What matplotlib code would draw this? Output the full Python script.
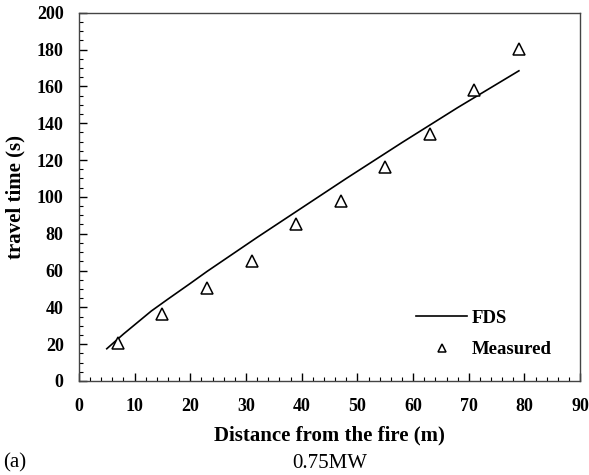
import matplotlib
matplotlib.use("Agg")
import matplotlib.pyplot as plt
from matplotlib.ticker import MultipleLocator

plt.rcParams['font.family'] = ['Liberation Serif', 'DejaVu Serif']

fds_x = [5, 8, 11, 13, 16, 20, 23, 32, 40, 48, 58, 68, 79]
fds_y = [17.5, 25.5, 33, 38, 44.5, 53, 59.5, 78, 94, 110, 129.5, 148.5, 168.5]
meas_x = [7, 15, 23, 31, 39, 47, 55, 63, 71, 79]
meas_y = [20.5, 36.5, 50.5, 65, 85, 98, 116, 134, 158, 180.5]

fig = plt.figure(figsize=(5.89, 4.75), dpi=100)
ax = fig.add_axes([0.134, 0.198, 0.851, 0.775])
ax.plot(fds_x, fds_y, color='black', lw=1.2, label='FDS')
ax.plot(meas_x, meas_y, linestyle='none', marker='^', markersize=8.5,
        markerfacecolor='white', markeredgecolor='black', markeredgewidth=1.1,
        label='Measured')
ax.set_xlim(0, 90)
ax.set_ylim(0, 200)
ax.xaxis.set_major_locator(MultipleLocator(10))
ax.xaxis.set_minor_locator(MultipleLocator(2))
ax.yaxis.set_major_locator(MultipleLocator(20))
ax.yaxis.set_minor_locator(MultipleLocator(5))
ax.tick_params(which='both', direction='in', top=False, right=False)
ax.tick_params(which='major', length=6, width=1, labelsize=13)
ax.tick_params(axis='x', which='major', pad=12)
ax.tick_params(axis='y', which='major', pad=11)
ax.tick_params(which='minor', length=3, width=0.8)
for lab in ax.get_xticklabels() + ax.get_yticklabels():
    lab.set_fontweight('bold')
for s in ax.spines.values():
    s.set_color('#444444')
    s.set_linewidth(1.0)
ax.set_xlabel('Distance from the fire (m)', fontsize=15, fontweight='bold', labelpad=8)
ax.set_ylabel('travel time (s)', fontsize=15, fontweight='bold', labelpad=8)
leg = ax.legend(loc='upper left', bbox_to_anchor=(0.673, 0.193), frameon=False,
                prop={'weight': 'bold', 'size': 13.5}, handlelength=2.7,
                handletextpad=0.25, labelspacing=0.75, borderpad=0,
                borderaxespad=0, markerscale=0.7)
fig.text(0.005, 0.015, '(a)', fontsize=15, va='baseline')
fig.text(0.560, 0.015, '0.75MW', fontsize=15, ha='center', va='baseline')
fig.savefig('out.png', dpi=100)
